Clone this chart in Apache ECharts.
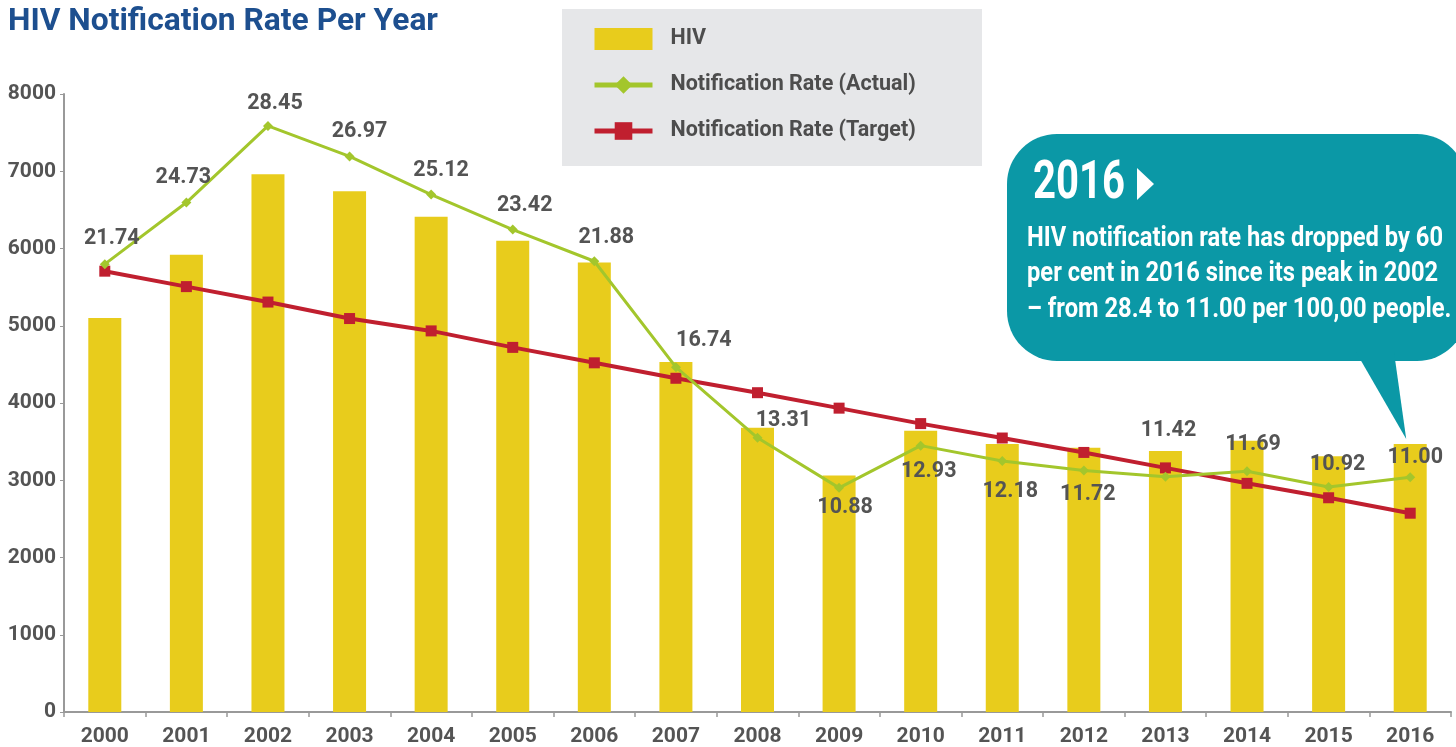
<!DOCTYPE html>
<html>
<head>
<meta charset="utf-8">
<style>
html,body{margin:0;padding:0;background:#fff;}
#chart{width:1456px;height:747px;}
</style>
<script src="https://cdn.jsdelivr.net/npm/echarts@6/dist/echarts.min.js"></script>
</head>
<body>
<div id="chart"></div>
<script>
const years = ['2000','2001','2002','2003','2004','2005','2006','2007','2008','2009','2010','2011','2012','2013','2014','2015','2016'];
const hivCases = [5100, 5920, 6960, 6740, 6410, 6100, 5820, 4530, 3680, 3060, 3640, 3470, 3420, 3380, 3510, 3310, 3470];
const rateActual = [21.74, 24.73, 28.45, 26.97, 25.12, 23.42, 21.88, 16.74, 13.31, 10.88, 12.93, 12.18, 11.72, 11.42, 11.69, 10.92, 11.40];
const rateActualLabels = ['21.74','24.73','28.45','26.97','25.12','23.42','21.88','16.74','13.31','10.88','12.93','12.18','11.72','11.42','11.69','10.92','11.00'];
const rateTarget = [21.4, 20.65, 19.9, 19.1, 18.5, 17.7, 16.95, 16.2, 15.5, 14.75, 14.0, 13.3, 12.6, 11.85, 11.1, 10.4, 9.65];
const yTicks = [0, 1000, 2000, 3000, 4000, 5000, 6000, 7000, 8000];
const titleText = 'HIV Notification Rate Per Year';
const calloutYear = '2016';
const calloutLines = [
  'HIV notification rate has dropped by 60',
  'per cent in 2016 since its peak in 2002',
  '– from 28.4 to 11.00 per 100,00 people.'
];

const FONT = 'Roboto, "Liberation Sans", sans-serif';
const GREY = '#545454';
const TEAL = '#0b98a6';

// label offsets (style), relative to each point
const labelOffsets = [[7,-26],[-3,-25],[7,-22],[10,-25],[10,-24],[12,-24],[12,-24],[28,-27],[26,-17],[6,20],[8,26],[8,31],[4,24],[3,-46],[6,-27],[9,-22],[5,-20]];

function textWidth(text, font) {
  const c = document.createElement('canvas').getContext('2d');
  c.font = font;
  return c.measureText(text).width;
}

const chart = echarts.init(document.getElementById('chart'));
const option = {
  animation: false,
  legend: {
    orient: 'vertical', left: 592, top: 28, padding: 0,
    itemWidth: 58, itemHeight: 22, itemGap: 24,
    textStyle: {fontFamily: FONT, fontWeight: 'bold', fontSize: 21.5, color: '#4d4d4d', padding: [0,0,0,13]},
    lineStyle: {width: 5},
    data: [
      {name: 'HIV', icon: 'rect'},
      {name: 'Notification Rate (Actual)'},
      {name: 'Notification Rate (Target)'}
    ]
  },
  grid: {left: 64, right: 5, top: 94, bottom: 35},
  xAxis: {
    type: 'category', data: years,
    axisLine: {lineStyle: {color: '#999', width: 2}},
    axisTick: {show: true, length: 5, lineStyle: {color: '#999', width: 1.5}},
    axisLabel: {fontFamily: FONT, fontWeight: 'bold', fontSize: 21, color: GREY, margin: 14}
  },
  yAxis: [{
    type: 'value', min: 0, max: 8000, interval: 1000,
    axisLine: {show: true, lineStyle: {color: '#999', width: 2}},
    axisTick: {show: true, length: 4, lineStyle: {color: '#999'}},
    splitLine: {show: false},
    axisLabel: {fontFamily: FONT, fontWeight: 'bold', fontSize: 21, color: GREY, margin: 8,
      formatter: v => yTicks.includes(v) ? String(v) : ''}
  }, {
    type: 'value', min: 0, max: 30, show: false, splitLine: {show: false}
  }],
  series: [{
    name: 'HIV', type: 'bar', data: hivCases, barWidth: 33,
    itemStyle: {color: '#e8cc1c'}
  }, {
    name: 'Notification Rate (Target)', type: 'line', yAxisIndex: 1, data: rateTarget,
    symbol: 'rect', symbolSize: 11,
    lineStyle: {color: '#c01f2f', width: 4},
    itemStyle: {color: '#c01f2f'},
    z: 3
  }, {
    name: 'Notification Rate (Actual)', type: 'line', yAxisIndex: 1,
    data: rateActual.map((v, i) => ({
      value: v,
      label: {offset: labelOffsets[i]}
    })),
    symbol: 'diamond', symbolSize: 10,
    lineStyle: {color: '#a3c62c', width: 3},
    itemStyle: {color: '#a3c62c'},
    label: {
      show: true, position: 'inside',
      fontFamily: FONT, fontWeight: 'bold', fontSize: 21.5, color: GREY,
      formatter: p => rateActualLabels[p.dataIndex]
    },
    z: 4
  }]
};
chart.setOption(option);

// annotation graphics
const tip = chart.convertToPixel({xAxisIndex: 0, yAxisIndex: 0}, [years.length - 1, hivCases[hivCases.length - 1]]);
const titleFont = 'bold 31px ' + FONT;
const titleScale = 430 / textWidth(titleText, titleFont);
const yearFont = 'bold 54px ' + FONT;
const yearScale = 92 / textWidth(calloutYear, yearFont);
const bodyFont = 'bold 28px ' + FONT;
const bodyScale = 416 / textWidth(calloutLines[0], bodyFont);
const lineYs = [239, 274, 310];

const graphics = [
  {type: 'text', x: 8, y: 22, scaleX: titleScale, style: {text: titleText, x: 0, y: 0, fill: '#1d4f8f', font: titleFont, verticalAlign: 'middle'}},
  {type: 'rect', z: -10, shape: {x: 562, y: 9, width: 420, height: 157}, style: {fill: '#e6e7e9'}},
  {type: 'rect', z: 10, shape: {x: 1007, y: 134, width: 460, height: 227, r: 50}, style: {fill: TEAL}},
  {type: 'polygon', z: 10, shape: {points: [[1356, 352], [1394, 352], [tip[0] - 4, tip[1] - 5]]}, style: {fill: TEAL}},
  {type: 'text', z: 11, x: 1033, y: 184, scaleX: yearScale, style: {text: calloutYear, x: 0, y: 0, fill: '#fff', font: yearFont, verticalAlign: 'middle'}},
  {type: 'polygon', z: 11, shape: {points: [[1137, 168], [1154, 184], [1137, 200]]}, style: {fill: '#fff'}}
];
calloutLines.forEach((t, i) => {
  graphics.push({type: 'text', z: 11, x: 1027, y: lineYs[i], scaleX: bodyScale,
    style: {text: t, x: 0, y: 0, fill: '#fff', font: bodyFont, verticalAlign: 'middle'}});
});
chart.setOption({graphic: graphics});
</script>
</body>
</html>
